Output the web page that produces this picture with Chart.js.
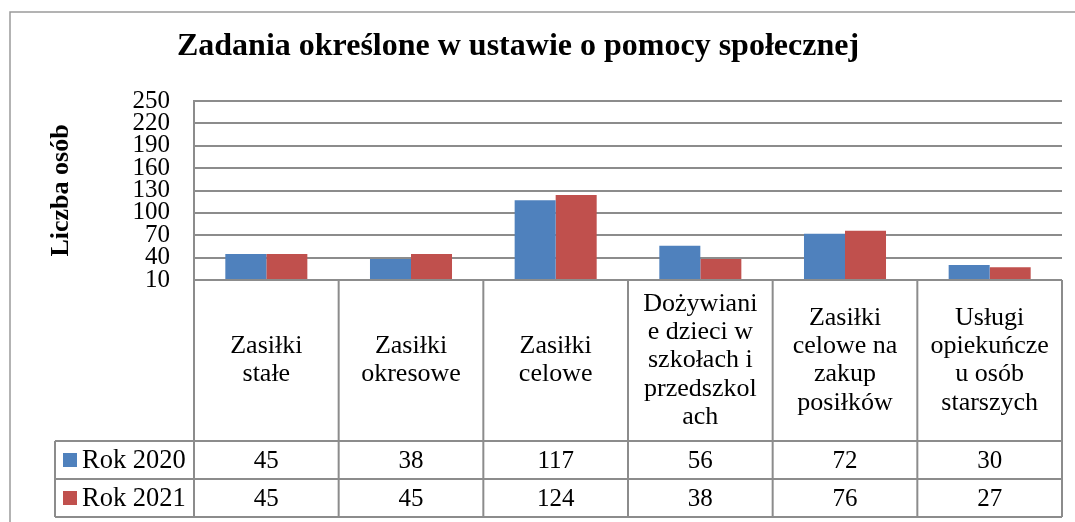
<!DOCTYPE html>
<html><head><meta charset="utf-8">
<script src="https://cdn.jsdelivr.net/npm/chart.js@4/dist/chart.umd.min.js"></script>
<style>html,body{margin:0;padding:0;background:#fff;overflow:hidden}</style>
</head><body>
<canvas id="c" width="1075" height="522"></canvas>
<script>
const chartTitle = 'Zadania określone w ustawie o pomocy społecznej';
const yAxisTitle = 'Liczba osób';
const categories = [
  ['Zasiłki','stałe'],
  ['Zasiłki','okresowe'],
  ['Zasiłki','celowe'],
  ['Dożywiani','e dzieci w','szkołach i','przedszkol','ach'],
  ['Zasiłki','celowe na','zakup','posiłków'],
  ['Usługi','opiekuńcze','u osób','starszych']
];
const seriesNames = ['Rok 2020','Rok 2021'];
const rok2020 = [45,38,117,56,72,30];
const rok2021 = [45,45,124,38,76,27];
const yMin = 10, yMax = 250, yStep = 30;

const SERIF = "'Liberation Serif','Times New Roman',serif";
const GRID = '#8c8c8c';
const COLORS = ['#4F81BD','#C0504D'];

const tablePlugin = {
  id: 'tbl',
  beforeDraw(chart){
    const ctx = chart.ctx;
    ctx.save();
    ctx.fillStyle = '#fff';
    ctx.fillRect(0,0,chart.width,chart.height);
    ctx.strokeStyle = '#9a9a9a';
    ctx.lineWidth = 1.5;
    ctx.beginPath();
    ctx.moveTo(10, chart.height); ctx.lineTo(10, 12); ctx.lineTo(chart.width, 12);
    ctx.stroke();
    ctx.restore();
  },
  afterDraw(chart){
    const ctx = chart.ctx, xs = chart.scales.x, a = chart.chartArea;
    const n = categories.length;
    const cw = (a.right - a.left) / n;
    const edges = [];
    for (let i = 0; i < n; i++) edges.push(xs.getPixelForValue(i) - cw/2);
    edges.push(xs.getPixelForValue(n-1) + cw/2);
    const yTop = a.bottom, yCat = 441, yR1 = 479, yR2 = 517, xLeg = 55;
    ctx.save();
    ctx.strokeStyle = GRID;
    ctx.lineWidth = 2;
    ctx.beginPath();
    ctx.moveTo(edges[0], yTop); ctx.lineTo(edges[n], yTop);
    edges.forEach(x => { ctx.moveTo(x, yTop); ctx.lineTo(x, yR2); });
    [yCat, yR1, yR2].forEach(y => { ctx.moveTo(xLeg, y); ctx.lineTo(edges[n], y); });
    ctx.moveTo(xLeg, yCat); ctx.lineTo(xLeg, yR2);
    ctx.stroke();

    ctx.fillStyle = '#000';
    ctx.font = '26px ' + SERIF;
    ctx.textAlign = 'center';
    ctx.textBaseline = 'middle';
    const lh = 28.3, cy = (yTop + yCat)/2;
    categories.forEach((lines, i) => {
      const cx = xs.getPixelForValue(i);
      lines.forEach((t, j) => {
        ctx.fillText(t, cx, cy + (j - (lines.length-1)/2) * lh);
      });
    });
    const rows = [[yCat, yR1],[yR1, yR2]];
    chart.data.datasets.forEach((ds, k) => {
      const ry = (rows[k][0] + rows[k][1]) / 2;
      ctx.font = '25px ' + SERIF;
      ctx.textAlign = 'center';
      ds.data.forEach((v, i) => ctx.fillText(String(v), xs.getPixelForValue(i), ry + 1));
      ctx.fillStyle = ds.backgroundColor;
      ctx.fillRect(63, ry - 7, 14, 14);
      ctx.fillStyle = '#000';
      ctx.textAlign = 'left';
      ctx.font = '26.5px ' + SERIF;
      ctx.fillText(ds.label, 82, ry + 1);
    });

    ctx.font = 'bold 32px ' + SERIF;
    ctx.textAlign = 'center';
    ctx.textBaseline = 'alphabetic';
    ctx.fillText(chartTitle, 518, 55);
    ctx.restore();
  }
};

new Chart(document.getElementById('c'), {
  type: 'bar',
  data: {
    labels: categories,
    datasets: [
      { label: seriesNames[0], data: rok2020, backgroundColor: COLORS[0], categoryPercentage: 0.567, barPercentage: 1 },
      { label: seriesNames[1], data: rok2021, backgroundColor: COLORS[1], categoryPercentage: 0.567, barPercentage: 1 }
    ]
  },
  options: {
    responsive: false,
    animation: false,
    devicePixelRatio: 1,
    layout: { padding: { top: 101, bottom: 242, left: 0, right: 13 } },
    plugins: { legend: { display: false }, tooltip: { enabled: false }, title: { display: false } },
    scales: {
      x: { display: false },
      y: {
        min: yMin, max: yMax,
        ticks: { stepSize: yStep, autoSkip: false, padding: 24, color: '#000', font: { family: SERIF, size: 25 } },
        grid: { color: GRID, lineWidth: 2, drawTicks: false },
        border: { display: true, color: GRID, width: 2 },
        title: { display: true, text: yAxisTitle, color: '#000', font: { family: SERIF, size: 26, weight: 'bold' }, padding: { top: 46, bottom: 0 } },
        afterFit(s) { s.width = 194; }
      }
    }
  },
  plugins: [tablePlugin]
});
</script>
</body></html>
